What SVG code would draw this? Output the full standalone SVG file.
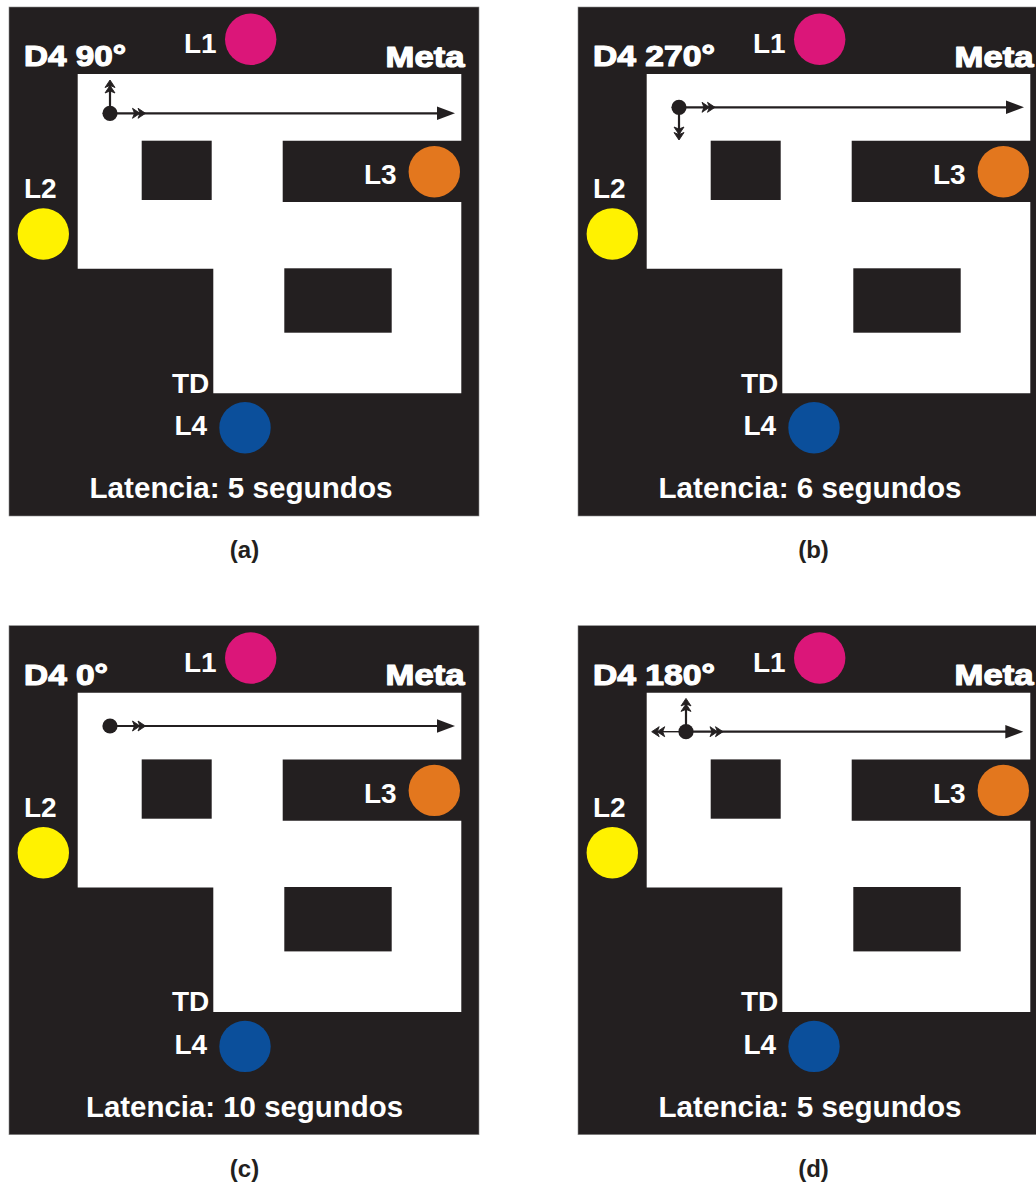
<svg xmlns="http://www.w3.org/2000/svg" xmlns:xlink="http://www.w3.org/1999/xlink" width="1036" height="1183" viewBox="0 0 1036 1183">
<style>
.lbl{font-family:"Liberation Sans",Arial,sans-serif;font-weight:bold;font-size:28px;fill:#ffffff}
.heavy{font-size:29.5px;stroke:#ffffff;stroke-width:1.2;stroke-linejoin:round}
.lat{font-size:29px}
.cap{font-family:"Liberation Sans",Arial,sans-serif;font-weight:bold;font-size:24px;fill:#231f20;text-anchor:middle}
.bg{fill:#231f20}
.path{stroke:#231f20;stroke-width:2.2;fill:none}
.thin{stroke:#231f20;stroke-width:1.4;fill:none}
.ink{fill:#231f20}
.chev{fill:#231f20;stroke:#231f20;stroke-width:0.9;stroke-linejoin:miter}
.l1{fill:#db1679}.l2{fill:#fff200}.l3{fill:#e3771e}.l4{fill:#0b4f9b}
</style>
<defs>
<g id="maze">
<rect class="bg" x="9" y="7" width="470" height="509" stroke="#8a8a8a" stroke-width="0.6"/>
<path fill="#ffffff" d="M77.7,74 H461.3 V140.7 H282.7 V202 H461.3 V393.3 H213.3 V268.7 H77.7 Z"/>
<rect class="bg" x="141.7" y="140.7" width="70" height="59.3"/>
<rect class="bg" x="284.3" y="268.3" width="107.4" height="64.4"/>
</g>
<path id="dbl" class="chev" d="M0,0 L-7.5,-5 L-5.5,0 L-7.5,5 Z M-5.5,0 L-13,-5 L-11,0 L-13,5 Z"/>
<path id="head" class="ink" d="M0,0 L-18,-6.7 L-18,6.7 Z"/>
</defs>

<g id="panel-a">
<use xlink:href="#maze"/>
<g id="a-L1"><circle class="l1" cx="250.7" cy="39.3" r="25.7"/><text class="lbl" x="184" y="53.3">L1</text></g>
<g id="a-L2"><circle class="l2" cx="43.3" cy="234" r="25.7"/><text class="lbl" x="24" y="198.3">L2</text></g>
<g id="a-L3"><circle class="l3" cx="434.3" cy="171.7" r="25.7"/><text class="lbl" x="364" y="184.3">L3</text></g>
<g id="a-L4"><circle class="l4" cx="245" cy="427.7" r="25.7"/><text class="lbl" x="174.5" y="435">L4</text></g>
<g id="a-title"><text class="lbl heavy" x="24" y="66.3" textLength="102" lengthAdjust="spacingAndGlyphs">D4 90°</text></g>
<g id="a-meta"><text class="lbl heavy" x="385.5" y="66.5" textLength="79" lengthAdjust="spacingAndGlyphs">Meta</text></g>
<g id="a-td"><text class="lbl" x="172" y="392.5">TD</text></g>
<g id="a-lat"><text class="lbl lat" x="89.5" y="498.3" textLength="303" lengthAdjust="spacingAndGlyphs">Latencia: 5 segundos</text></g>
<g id="a-cap"><text class="cap" x="244.5" y="558">(a)</text></g>
<g id="a-connectors">
<line class="path" x1="110" y1="113.3" x2="438" y2="113.3"/>
<use xlink:href="#head" transform="translate(455,113.3)"/>
<use xlink:href="#dbl" transform="translate(145.5,113.3)"/>
<line class="path" x1="110" y1="113.3" x2="110" y2="82"/>
<use xlink:href="#dbl" transform="translate(110,80) rotate(-90)"/>
<circle class="ink" cx="110" cy="113.3" r="7.6"/>
</g>
</g>

<g id="panel-b" transform="translate(569,0)">
<use xlink:href="#maze"/>
<g id="b-L1"><circle class="l1" cx="250.7" cy="39.3" r="25.7"/><text class="lbl" x="184" y="53.3">L1</text></g>
<g id="b-L2"><circle class="l2" cx="43.3" cy="234" r="25.7"/><text class="lbl" x="24" y="198.3">L2</text></g>
<g id="b-L3"><circle class="l3" cx="434.3" cy="171.7" r="25.7"/><text class="lbl" x="364" y="184.3">L3</text></g>
<g id="b-L4"><circle class="l4" cx="245" cy="427.7" r="25.7"/><text class="lbl" x="174.5" y="435">L4</text></g>
<g id="b-title"><text class="lbl heavy" x="24" y="66.3" textLength="122" lengthAdjust="spacingAndGlyphs">D4 270°</text></g>
<g id="b-meta"><text class="lbl heavy" x="385.5" y="66.5" textLength="79" lengthAdjust="spacingAndGlyphs">Meta</text></g>
<g id="b-td"><text class="lbl" x="172" y="392.5">TD</text></g>
<g id="b-lat"><text class="lbl lat" x="89.5" y="498.3" textLength="303" lengthAdjust="spacingAndGlyphs">Latencia: 6 segundos</text></g>
<g id="b-cap"><text class="cap" x="244.5" y="558">(b)</text></g>
<g id="b-connectors">
<line class="path" x1="110" y1="107.3" x2="438" y2="107.3"/>
<use xlink:href="#head" transform="translate(455,107.3)"/>
<use xlink:href="#dbl" transform="translate(146,107.3)"/>
<line class="path" x1="110" y1="107.3" x2="110" y2="138"/>
<use xlink:href="#dbl" transform="translate(110,140) rotate(90)"/>
<circle class="ink" cx="110" cy="107.3" r="7.6"/>
</g>
</g>

<g id="panel-c" transform="translate(0,618.7)">
<use xlink:href="#maze"/>
<g id="c-L1"><circle class="l1" cx="250.7" cy="39.3" r="25.7"/><text class="lbl" x="184" y="53.3">L1</text></g>
<g id="c-L2"><circle class="l2" cx="43.3" cy="234" r="25.7"/><text class="lbl" x="24" y="198.3">L2</text></g>
<g id="c-L3"><circle class="l3" cx="434.3" cy="171.7" r="25.7"/><text class="lbl" x="364" y="184.3">L3</text></g>
<g id="c-L4"><circle class="l4" cx="245" cy="427.7" r="25.7"/><text class="lbl" x="174.5" y="435">L4</text></g>
<g id="c-title"><text class="lbl heavy" x="24" y="66.3" textLength="84" lengthAdjust="spacingAndGlyphs">D4 0°</text></g>
<g id="c-meta"><text class="lbl heavy" x="385.5" y="66.5" textLength="79" lengthAdjust="spacingAndGlyphs">Meta</text></g>
<g id="c-td"><text class="lbl" x="172" y="392.5">TD</text></g>
<g id="c-lat"><text class="lbl lat" x="86" y="498.3" textLength="317" lengthAdjust="spacingAndGlyphs">Latencia: 10 segundos</text></g>
<g id="c-cap"><text class="cap" x="244.5" y="558">(c)</text></g>
<g id="c-connectors">
<line class="path" x1="110" y1="107.3" x2="438" y2="107.3"/>
<use xlink:href="#head" transform="translate(455,107.3)"/>
<use xlink:href="#dbl" transform="translate(145.5,107.3)"/>
<circle class="ink" cx="110" cy="107.3" r="7.6"/>
</g>
</g>

<g id="panel-d" transform="translate(569,618.7)">
<use xlink:href="#maze"/>
<g id="d-L1"><circle class="l1" cx="250.7" cy="39.3" r="25.7"/><text class="lbl" x="184" y="53.3">L1</text></g>
<g id="d-L2"><circle class="l2" cx="43.3" cy="234" r="25.7"/><text class="lbl" x="24" y="198.3">L2</text></g>
<g id="d-L3"><circle class="l3" cx="434.3" cy="171.7" r="25.7"/><text class="lbl" x="364" y="184.3">L3</text></g>
<g id="d-L4"><circle class="l4" cx="245" cy="427.7" r="25.7"/><text class="lbl" x="174.5" y="435">L4</text></g>
<g id="d-title"><text class="lbl heavy" x="24" y="66.3" textLength="122" lengthAdjust="spacingAndGlyphs">D4 180°</text></g>
<g id="d-meta"><text class="lbl heavy" x="385.5" y="66.5" textLength="79" lengthAdjust="spacingAndGlyphs">Meta</text></g>
<g id="d-td"><text class="lbl" x="172" y="392.5">TD</text></g>
<g id="d-lat"><text class="lbl lat" x="89.5" y="498.3" textLength="303" lengthAdjust="spacingAndGlyphs">Latencia: 5 segundos</text></g>
<g id="d-cap"><text class="cap" x="244.5" y="558">(d)</text></g>
<g id="d-connectors">
<line class="path" x1="117" y1="113" x2="437" y2="113"/>
<use xlink:href="#head" transform="translate(454.3,113)"/>
<use xlink:href="#dbl" transform="translate(154,113)"/>
<line class="path" x1="117" y1="113" x2="117" y2="82"/>
<use xlink:href="#dbl" transform="translate(117,79.7) rotate(-90)"/>
<line class="thin" x1="117" y1="113" x2="85" y2="113"/>
<use xlink:href="#dbl" transform="translate(82.7,113) rotate(180)"/>
<circle class="ink" cx="117" cy="113" r="7.6"/>
</g>
</g>
</svg>
